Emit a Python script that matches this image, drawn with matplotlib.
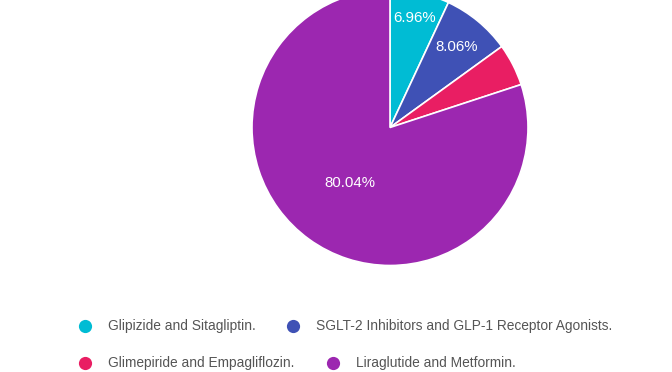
import numpy as np
import matplotlib
matplotlib.use('Agg')
import matplotlib.pyplot as plt

# slice data
labels = ['Glipizide and Sitagliptin.',
          'SGLT-2 Inhibitors and GLP-1 Receptor Agonists.',
          'Glimepiride and Empagliflozin.',
          'Liraglutide and Metformin.']
shares = [6.96, 8.06, 4.94, 80.04]
colors = ['#00BCD4', '#3F51B5', '#E91E63', '#9C27B0']
# where the percent text sits, as a fraction of the radius (None = hidden)
label_dist = [0.81, 0.76, None, 0.50]

plt.rcParams['font.family'] = ['Liberation Sans', 'DejaVu Sans']

W, H = 672, 372
fig = plt.figure(figsize=(W / 100, H / 100), dpi=100)
ax = fig.add_axes([0, 0, 1, 1])

# axes in pixel units, y up
cx, cy, r = 390, H - 127.5, 138
wedges, _ = ax.pie(shares, colors=colors, startangle=90, counterclock=False,
                   center=(cx, cy), radius=r, frame=True,
                   wedgeprops=dict(edgecolor='white', linewidth=1.2))

for w, val, d in zip(wedges, shares, label_dist):
    if d is None:
        continue
    ang = np.deg2rad((w.theta1 + w.theta2) / 2)
    ax.text(cx + d * r * np.cos(ang), cy + d * r * np.sin(ang), f'{val:.2f}%',
            ha='center', va='center', color='white', fontsize=10.8)

# legend, laid out inline like the original
legend_pos = [(85, 326), (293, 326), (85, 363), (333, 363)]
for (lx, ly), lab, col in zip(legend_pos, labels, colors):
    ax.plot(lx, H - ly, 'o', color=col, markersize=9.5, markeredgewidth=0)
    ax.text(lx + 23, H - ly, lab, ha='left', va='center', color='#555555', fontsize=9.9)

ax.set_xlim(0, W)
ax.set_ylim(0, H)
ax.set_aspect('equal')
ax.axis('off')

fig.savefig('out.png', dpi=100, facecolor='white')
